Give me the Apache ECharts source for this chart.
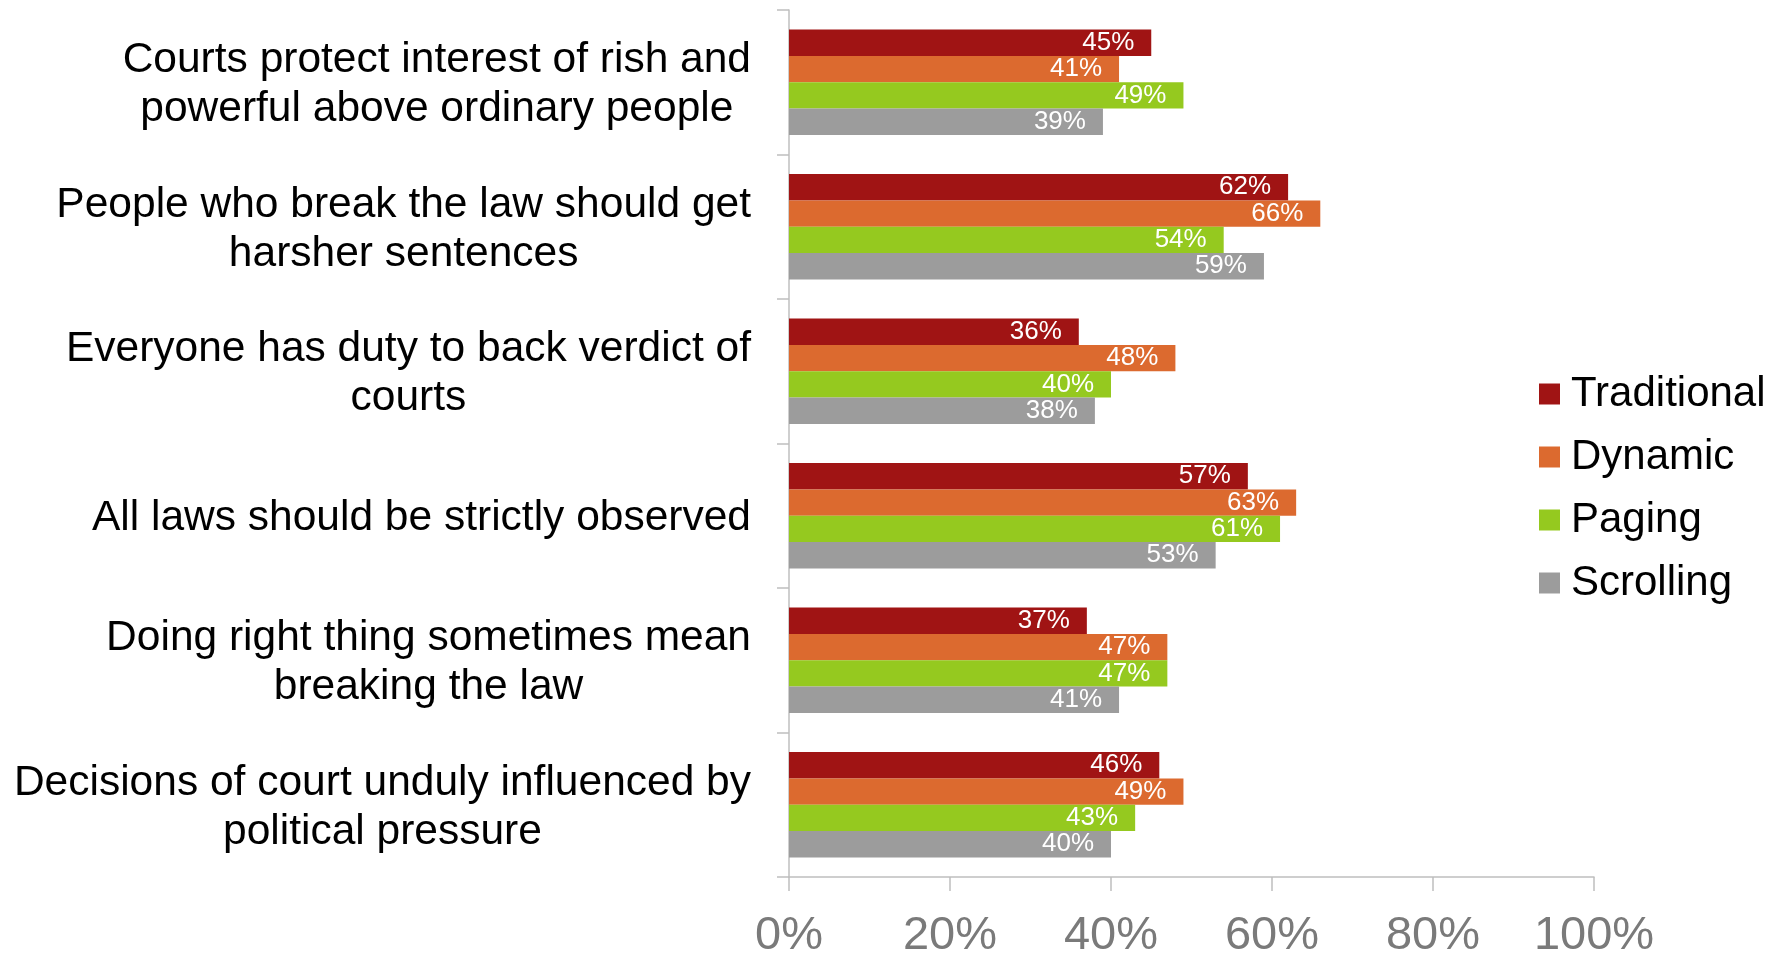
<!DOCTYPE html>
<html>
<head>
<meta charset="utf-8">
<script src="https://cdn.jsdelivr.net/npm/echarts@6/dist/echarts.min.js"></script>
<style>
  html, body { margin: 0; padding: 0; background: #fff; }
  #chart { width: 1789px; height: 953px; }
</style>
</head>
<body>
<div id="chart"></div>
<script>
// categories, top to bottom
const categories = [
  'Courts protect interest of rish and\npowerful above ordinary people',
  'People who break the law should get\nharsher sentences',
  'Everyone has duty to back verdict of\ncourts',
  'All laws should be strictly observed',
  'Doing right thing sometimes mean\nbreaking the law',
  'Decisions of court unduly influenced by\npolitical pressure'
]
const seriesNames = ['Traditional', 'Dynamic', 'Paging', 'Scrolling']
const traditional = [45, 62, 36, 57, 37, 46]
const dynamic = [41, 66, 48, 63, 47, 49]
const paging = [49, 54, 40, 61, 47, 43]
const scrolling = [39, 59, 38, 53, 41, 40]
const xTicks = [0, 20, 40, 60, 80, 100]

const colors = ['#a01414', '#dc6a2f', '#95c91f', '#9c9c9c']
const values = [traditional, dynamic, paging, scrolling]
const fontFamily = '"Liberation Sans", Arial, sans-serif'

const chart = echarts.init(document.getElementById('chart'))

const series = []
values.forEach((element, index) => {
  series.push({
    name: seriesNames[index],
    type: 'bar',
    data: element,
    itemStyle: { color: colors[index] },
    barGap: 0,
    barCategoryGap: '27%',
    label: {
      show: true,
      position: 'insideRight',
      distance: 17,
      formatter: '{c}%',
      color: '#fff',
      fontSize: 26,
      fontFamily: fontFamily
    },
    animation: false
  })
})

chart.setOption({
  grid: {
    left: 789,
    right: 195,
    top: 10,
    bottom: 76,
    outerBoundsMode: 'none',
    containLabel: false
  },
  legend: {
    orient: 'vertical',
    left: 1534,
    top: 368,
    itemWidth: 21,
    itemHeight: 21,
    itemGap: 21,
    icon: 'rect',
    data: seriesNames,
    textStyle: {
      fontSize: 42,
      lineHeight: 42,
      color: '#000',
      fontFamily: fontFamily,
      padding: [0, 0, 0, 6]
    }
  },
  xAxis: {
    type: 'value',
    min: xTicks[0],
    max: xTicks[xTicks.length - 1],
    interval: 20,
    splitLine: { show: false },
    axisLine: { show: true, lineStyle: { color: '#bfbfbf', width: 1.5 } },
    axisTick: { show: true, length: 14, lineStyle: { color: '#bfbfbf', width: 1.5 } },
    axisLabel: {
      formatter: '{value}%',
      fontSize: 47,
      color: '#7a7a7a',
      margin: 36,
      fontFamily: fontFamily
    }
  },
  yAxis: {
    type: 'category',
    inverse: true,
    data: categories,
    axisLine: { show: true, lineStyle: { color: '#bfbfbf', width: 1.5 } },
    axisTick: { show: true, length: 12, lineStyle: { color: '#bfbfbf', width: 1.5 } },
    axisLabel: {
      margin: 38,
      align: 'right',
      padding: [6, 0, 0, 0],
      // lines centred inside a right-aligned block
      formatter: function (value) {
        return value.split('\n').map(l => '{c|' + l + '}').join('\n')
      },
      rich: {
        c: {
          align: 'center',
          fontSize: 42.5,
          lineHeight: 49,
          color: '#000',
          fontFamily: fontFamily
        }
      }
    }
  },
  series: series
})
</script>
</body>
</html>
